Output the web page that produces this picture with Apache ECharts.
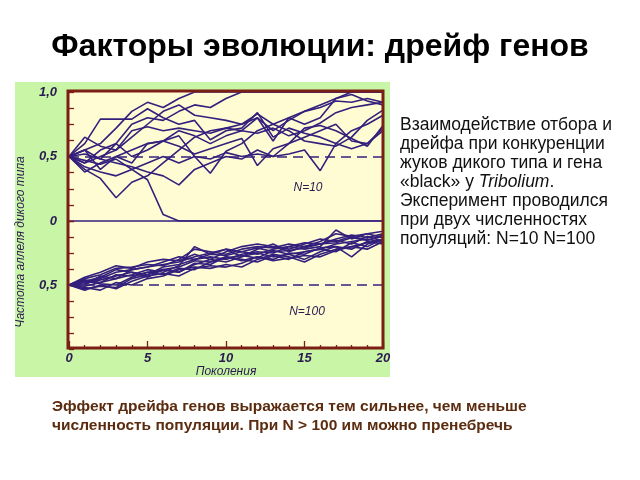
<!DOCTYPE html>
<html>
<head>
<meta charset="utf-8">
<script src="https://cdn.jsdelivr.net/npm/echarts@6/dist/echarts.min.js"></script>
<style>
html,body{margin:0;padding:0;background:#fff;}
#c{width:640px;height:480px;}
</style>
</head>
<body>
<div id="c"></div>
<script>
// ---- data ----
const generations = [0,1,2,3,4,5,6,7,8,9,10,11,12,13,14,15,16,17,18,19,20];
const upperTickLabels = {"1": "1,0", "0.5": "0,5", "0": "0"};
const lowerTickLabels = {"0.5": "0,5"};
const xTickLabels = ["0","5","10","15","20"];
const refLevel = 0.5;

// N = 10 : frequency of wild-type allele per generation
const n10Runs = [
  [0.5,0.55,0.6,0.72,0.85,0.92,0.88,0.95,1.0,1.0,1.0,1.0,1.0,1.0,1.0,1.0,1.0,1.0,1.0,1.0,1.0],
  [0.5,0.45,0.55,0.6,0.75,0.8,0.78,0.85,0.9,0.88,0.95,1.0,1.0,1.0,1.0,1.0,1.0,1.0,1.0,1.0,1.0],
  [0.5,0.42,0.38,0.35,0.4,0.32,0.05,0.0,0.0,0.0,0.0,0.0,0.0,0.0,0.0,0.0,0.0,0.0,0.0,0.0,0.0],
  [0.5,0.4,0.33,0.18,0.3,0.35,0.45,0.55,0.65,0.7,0.72,0.7,0.8,0.7,0.78,0.85,0.9,0.95,0.98,0.93,0.9],
  [0.5,0.55,0.48,0.45,0.42,0.38,0.35,0.28,0.4,0.45,0.5,0.48,0.55,0.5,0.6,0.65,0.7,0.75,0.62,0.6,0.72],
  [0.5,0.47,0.44,0.48,0.4,0.45,0.5,0.45,0.5,0.48,0.53,0.5,0.52,0.5,0.52,0.55,0.39,0.6,0.7,0.75,0.82],
  [0.5,0.65,0.58,0.55,0.7,0.73,0.7,0.72,0.7,0.68,0.72,0.75,0.8,0.62,0.8,0.85,0.88,0.93,0.92,0.95,0.92],
  [0.5,0.6,0.79,0.79,0.79,0.87,0.8,0.75,0.78,0.63,0.7,0.72,0.84,0.65,0.72,0.68,0.65,0.6,0.56,0.6,0.7],
  [0.5,0.45,0.5,0.55,0.65,0.75,0.85,0.9,0.82,0.8,0.78,0.75,0.83,0.75,0.7,0.62,0.6,0.58,0.65,0.78,0.86],
  [0.5,0.52,0.48,0.6,0.5,0.55,0.62,0.66,0.5,0.37,0.54,0.6,0.7,0.75,0.8,0.75,0.8,0.95,1.0,1.0,1.0],
  [0.5,0.38,0.45,0.5,0.55,0.6,0.62,0.7,0.66,0.6,0.66,0.7,0.68,0.72,0.66,0.7,0.76,0.84,0.88,0.9,0.92],
  [0.5,0.55,0.4,0.5,0.45,0.6,0.62,0.58,0.52,0.56,0.6,0.64,0.43,0.56,0.6,0.72,0.74,0.7,0.64,0.58,0.74]
];

// N = 100
const n100Runs = [
  [0.5,0.55,0.58,0.63,0.64,0.66,0.65,0.7,0.78,0.76,0.74,0.78,0.8,0.79,0.82,0.8,0.84,0.9,0.88,0.9,0.92],
  [0.5,0.52,0.55,0.6,0.62,0.64,0.66,0.68,0.72,0.75,0.78,0.76,0.74,0.78,0.8,0.83,0.82,0.86,0.89,0.87,0.9],
  [0.5,0.47,0.49,0.48,0.55,0.58,0.62,0.6,0.66,0.7,0.68,0.72,0.75,0.72,0.74,0.7,0.76,0.8,0.72,0.82,0.85],
  [0.5,0.53,0.51,0.5,0.56,0.6,0.58,0.63,0.62,0.68,0.72,0.7,0.68,0.73,0.7,0.76,0.78,0.82,0.84,0.86,0.83],
  [0.5,0.56,0.6,0.65,0.63,0.68,0.7,0.69,0.74,0.7,0.76,0.8,0.82,0.8,0.78,0.82,0.86,0.84,0.88,0.85,0.88],
  [0.5,0.48,0.46,0.52,0.5,0.55,0.57,0.62,0.64,0.63,0.66,0.64,0.7,0.74,0.72,0.68,0.74,0.78,0.8,0.83,0.86],
  [0.5,0.51,0.54,0.57,0.6,0.58,0.64,0.66,0.7,0.72,0.7,0.74,0.76,0.75,0.8,0.78,0.8,0.93,0.86,0.9,0.87],
  [0.5,0.49,0.52,0.55,0.58,0.62,0.6,0.65,0.8,0.74,0.78,0.72,0.78,0.82,0.76,0.8,0.82,0.85,0.82,0.88,0.84],
  [0.5,0.54,0.52,0.58,0.57,0.6,0.62,0.6,0.67,0.66,0.72,0.69,0.72,0.7,0.75,0.74,0.79,0.8,0.78,0.84,0.82],
  [0.5,0.5,0.57,0.55,0.62,0.64,0.68,0.72,0.7,0.74,0.73,0.76,0.79,0.76,0.77,0.79,0.82,0.83,0.87,0.85,0.89],
  [0.5,0.53,0.56,0.62,0.6,0.56,0.62,0.64,0.69,0.68,0.71,0.73,0.71,0.77,0.74,0.76,0.78,0.76,0.83,0.8,0.86],
  [0.5,0.46,0.5,0.47,0.53,0.57,0.59,0.57,0.63,0.65,0.64,0.67,0.72,0.69,0.71,0.73,0.72,0.77,0.8,0.78,0.84]
];

// ---- styles ----
const LINE = '#33207c';
const BORDER = '#7b1f14';
const GREEN = '#c9f5a6';
const YELLOW = '#fffcd4';
const AXFONT = {fontFamily: 'Liberation Sans', fontStyle: 'italic', fontWeight: 'bold', fontSize: 13, color: '#2a1a50'};

const P = {left: 69, top: 92, width: 314, upperH: 129, lowerH: 128};

function mkSeries(runs, idx) {
  return runs.map((r, k) => ({
    type: 'line', xAxisIndex: idx, yAxisIndex: idx, symbol: 'none', silent: true,
    lineStyle: {color: LINE, width: 1.6}, animation: false,
    data: generations.map((g, i) => [g, r[i]]),
    markLine: k === 0 ? {
      silent: true, symbol: 'none', label: {show: false}, animation: false,
      lineStyle: {color: LINE, width: 1.5, type: [10, 6]},
      data: [{yAxis: refLevel}]
    } : undefined
  }));
}

const chart = echarts.init(document.getElementById('c'), null, {renderer: 'canvas'});
chart.setOption({
  backgroundColor: '#ffffff',
  animation: false,
  grid: [
    {left: P.left, top: P.top, width: P.width, height: P.upperH, show: false},
    {left: P.left, top: P.top + P.upperH, width: P.width, height: P.lowerH, show: false}
  ],
  xAxis: [
    {gridIndex: 0, type: 'value', min: 0, max: 20, interval: 5,
     axisLine: {show: true, onZero: false, lineStyle: {color: LINE, width: 1.5}},
     axisTick: {show: false}, axisLabel: {show: false}, splitLine: {show: false}},
    {gridIndex: 1, type: 'value', min: 0, max: 20, interval: 5,
     name: 'Поколения', nameLocation: 'middle', nameGap: 15,
     nameTextStyle: Object.assign({}, AXFONT, {fontSize: 12, fontWeight: 'normal'}),
     axisLine: {show: false},
     axisTick: {show: true, inside: true, length: 8, lineStyle: {color: BORDER, width: 1.3}},
     minorTick: {show: true, splitNumber: 5, length: 4, lineStyle: {color: BORDER, width: 1.3}},
     axisLabel: Object.assign({}, AXFONT, {margin: 3, formatter: v => xTickLabels.includes(String(v)) ? String(v) : ''}),
     splitLine: {show: false}}
  ],
  yAxis: [
    {gridIndex: 0, type: 'value', min: 0, max: 1, interval: 0.125,
     axisLine: {show: false},
     axisTick: {show: true, inside: true, length: 5, lineStyle: {color: BORDER, width: 1.3}},
     axisLabel: Object.assign({}, AXFONT, {margin: 12, formatter: v => upperTickLabels[String(v)] || ''}),
     splitLine: {show: false}},
    {gridIndex: 1, type: 'value', min: 0, max: 1, interval: 0.125,
     axisLine: {show: false},
     axisTick: {show: true, inside: true, length: 5, lineStyle: {color: BORDER, width: 1.3}},
     axisLabel: Object.assign({}, AXFONT, {margin: 12, formatter: v => lowerTickLabels[String(v)] || ''}),
     splitLine: {show: false}}
  ],
  graphic: [
    {type: 'rect', z: -10, shape: {x: 15, y: 82, width: 375, height: 295}, style: {fill: GREEN}},
    {type: 'rect', z: -9, shape: {x: 68, y: 91, width: 315, height: 257}, style: {fill: YELLOW}},
    {type: 'rect', z: 100, shape: {x: 68, y: 91, width: 315, height: 257}, style: {fill: null, stroke: BORDER, lineWidth: 3}},
    {type: 'text', z: 100, x: 21, y: 242, rotation: Math.PI / 2,
     style: {text: 'Частота аллеля дикого типа', fontFamily: 'Liberation Sans', fontStyle: 'italic', fontSize: 12,
             fill: '#2a1a50', textAlign: 'center', textVerticalAlign: 'middle'}},
    {type: 'text', z: 100, x: 308, y: 188,
     style: {text: 'N=10', fontFamily: 'Liberation Sans', fontStyle: 'italic', fontSize: 12, fill: '#2a1a50',
             textAlign: 'center', textVerticalAlign: 'middle'}},
    {type: 'text', z: 100, x: 307, y: 312,
     style: {text: 'N=100', fontFamily: 'Liberation Sans', fontStyle: 'italic', fontSize: 12, fill: '#2a1a50',
             textAlign: 'center', textVerticalAlign: 'middle'}},
    {type: 'text', z: 100, x: 320, y: 47,
     style: {text: 'Факторы эволюции: дрейф генов', fontFamily: 'Liberation Sans', fontWeight: 'bold', fontSize: 32,
             fill: '#000', textAlign: 'center', textVerticalAlign: 'middle'}},
    {type: 'text', z: 100, x: 400, y: 116,
     style: {rich: {n: {fontFamily: 'Liberation Sans', fontSize: 17.5, fill: '#111', lineHeight: 19},
                    i: {fontFamily: 'Liberation Sans', fontSize: 17.5, fontStyle: 'italic', fill: '#111', lineHeight: 19}},
             text: '{n|Взаимодействие отбора и}\n{n|дрейфа при конкуренции}\n{n|жуков дикого типа и гена}\n{n|«black» у }{i|Tribolium}{n|.}\n{n|Эксперимент проводился}\n{n|при двух численностях}\n{n|популяций: N=10 N=100}',
             textAlign: 'left', textVerticalAlign: 'top'}},
    {type: 'text', z: 100, x: 52, y: 397,
     style: {text: 'Эффект дрейфа генов выражается тем сильнее, чем меньше\nчисленность популяции. При N > 100 им можно пренебречь',
             fontFamily: 'Liberation Sans', fontWeight: 'bold', fontSize: 15.5, lineHeight: 19, fill: '#5b2c0f',
             textAlign: 'left', textVerticalAlign: 'top'}}
  ],
  series: mkSeries(n10Runs, 0).concat(mkSeries(n100Runs, 1))
});
</script>
</body>
</html>
